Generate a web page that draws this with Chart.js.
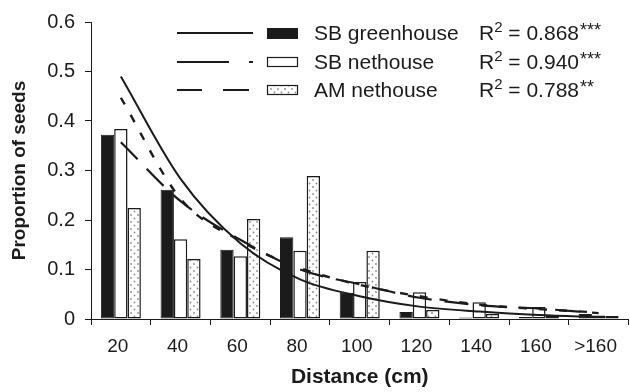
<!DOCTYPE html>
<html lang="en">
<head>
  <meta charset="UTF-8">
  <title>Seed dispersal by distance</title>
  <script src="https://cdn.jsdelivr.net/npm/chart.js@4.4.1/dist/chart.umd.min.js"></script>
  <style>
    html, body { margin: 0; padding: 0; background: #fff; }
    #wrap { width: 630px; height: 392px; position: relative; }
  </style>
</head>
<body>
<div id="wrap"><canvas id="seedChart"></canvas></div>

<script>
  // distance classes (cm)
  const distances = ['20', '40', '60', '80', '100', '120', '140', '160', '>160'];
  const yTicks = [0, 0.1, 0.2, 0.3, 0.4, 0.5, 0.6];

  // observed proportion of seeds (bars)
  const sbGreenhouse = [0.372, 0.261, 0.140, 0.165, 0.053, 0.014, 0.003, 0.004, 0.010];
  const sbNethouse   = [0.384, 0.161, 0.127, 0.138, 0.075, 0.054, 0.034, 0.024, 0.007];
  const amNethouse   = [0.224, 0.121, 0.202, 0.289, 0.138, 0.018, 0.010, 0.007, 0.006];

  // fitted curves, read at each distance class
  const sbGreenhouseFit = [0.490, 0.283, 0.153, 0.080, 0.046, 0.025, 0.015, 0.008, 0.004];
  const sbNethouseFit   = [0.447, 0.243, 0.158, 0.103, 0.069, 0.046, 0.029, 0.020, 0.013];
  const amNethouseFit   = [0.357, 0.238, 0.160, 0.100, 0.070, 0.043, 0.028, 0.021, 0.012];

  const seriesNames = ['SB greenhouse', 'SB nethouse', 'AM nethouse'];
  const rSquared = ['0.868', '0.940', '0.788'];
  const signif = ['***', '***', '**'];

  const ink = '#1b1b1b';
  const fontFamily = '"Liberation Sans", Arial, Helvetica, sans-serif';

  // stippled fill for the AM nethouse bars
  function makeDots() {
    const c = document.createElement('canvas');
    c.width = 7; c.height = 7;
    const g = c.getContext('2d');
    g.fillStyle = '#fff';
    g.fillRect(0, 0, 7, 7);
    g.fillStyle = '#8c8c8c';
    g.beginPath(); g.arc(1.5, 1.5, 0.9, 0, Math.PI * 2); g.fill();
    g.beginPath(); g.arc(5, 5, 0.9, 0, Math.PI * 2); g.fill();
    return c;
  }
  const ctx = document.getElementById('seedChart').getContext('2d');
  const dots = ctx.createPattern(makeDots(), 'repeat');

  // legend with line samples, swatches and R² text
  const curveLegend = {
    id: 'curveLegend',
    afterDraw(chart) {
      const c = chart.ctx;
      const rows = [33, 62, 90];
      c.save();
      rows.forEach((y, i) => {
        c.strokeStyle = ink;
        c.lineWidth = 2;
        c.beginPath();
        if (i === 0) {
          c.moveTo(177, y); c.lineTo(253, y);
        } else if (i === 1) {
          c.moveTo(177, y); c.lineTo(229, y);
          c.moveTo(249, y); c.lineTo(253, y);
        } else {
          c.moveTo(177, y); c.lineTo(202, y);
          c.moveTo(223, y); c.lineTo(249, y);
        }
        c.stroke();

        // swatch
        c.lineWidth = 1.2;
        if (i === 0) {
          c.fillStyle = ink;
          c.fillRect(267, y - 5, 31, 11);
        } else {
          c.fillStyle = i === 1 ? '#fff' : dots;
          c.fillRect(267, y - 5, 31, 10);
          c.strokeRect(267.5, y - 4.5, 30, 9);
        }

        c.fillStyle = ink;
        c.textBaseline = 'middle';
        c.textAlign = 'left';
        c.font = '21px ' + fontFamily;
        c.fillText(seriesNames[i], 314, y + 1);

        let x = 479;
        c.fillText('R', x, y + 1);
        x += c.measureText('R').width;
        c.font = '15px ' + fontFamily;
        c.fillText('2', x, y - 5);
        x += c.measureText('2').width;
        c.font = '21px ' + fontFamily;
        c.fillText(' = ' + rSquared[i], x, y + 1);
        x += c.measureText(' = ' + rSquared[i]).width;
        c.font = '18px ' + fontFamily;
        c.fillText(signif[i], x + 1, y - 2);
      });
      c.restore();
    }
  };

  const lineBase = {
    type: 'line',
    borderColor: ink,
    borderWidth: 2,
    pointRadius: 0,
    fill: false,
    cubicInterpolationMode: 'monotone',
    order: 0
  };
  const barBase = {
    type: 'bar',
    borderColor: ink,
    borderSkipped: false,
    barPercentage: 1,
    categoryPercentage: 0.67,
    order: 1
  };

  new Chart(ctx, {
    data: {
      labels: distances,
      datasets: [
        Object.assign({}, lineBase, { label: 'SB greenhouse fit', data: sbGreenhouseFit }),
        Object.assign({}, lineBase, { label: 'SB nethouse fit', data: sbNethouseFit, borderWidth: 2.4, borderDash: [8, 12] }),
        Object.assign({}, lineBase, { label: 'AM nethouse fit', data: amNethouseFit, borderWidth: 2.2, borderDash: [24, 13] }),
        Object.assign({}, barBase, { label: 'SB greenhouse', data: sbGreenhouse, backgroundColor: ink, borderWidth: 1 }),
        Object.assign({}, barBase, { label: 'SB nethouse', data: sbNethouse, backgroundColor: '#fff', borderWidth: 1.5 }),
        Object.assign({}, barBase, { label: 'AM nethouse', data: amNethouse, backgroundColor: dots, borderWidth: 1.5 })
      ]
    },
    options: {
      responsive: true,
      maintainAspectRatio: false,
      animation: false,
      layout: { padding: { top: 15, right: 0, left: 0, bottom: 0 } },
      plugins: {
        legend: { display: false },
        tooltip: { enabled: false }
      },
      scales: {
        x: {
          offset: true,
          grid: { display: true, offset: true, drawOnChartArea: false, drawTicks: true, tickLength: 6, color: ink, lineWidth: 1 },
          border: { display: true, color: ink, width: 1 },
          ticks: { color: ink, padding: 10, labelOffset: -3, font: { size: 19, family: fontFamily } },
          title: { display: true, text: 'Distance (cm)', color: ink, padding: { top: 0, bottom: 2 }, font: { size: 21, weight: 'bold', family: fontFamily } },
          afterFit(scale) { scale.height = 73; }
        },
        y: {
          min: 0,
          max: 0.6,
          afterBuildTicks(scale) { scale.ticks = yTicks.map(v => ({ value: v })); },
          grid: { display: true, drawOnChartArea: false, drawTicks: true, tickLength: 6, color: ink, lineWidth: 1 },
          border: { display: true, color: ink, width: 1 },
          ticks: {
            color: ink,
            padding: 10,
            font: { size: 20, family: fontFamily },
            callback: v => (v === 0 ? '0' : v.toFixed(1))
          },
          title: { display: true, text: 'Proportion of seeds', color: ink, padding: { top: 8, bottom: 0 }, font: { size: 19, weight: 'bold', family: fontFamily } },
          afterFit(scale) { scale.width = 91; }
        }
      }
    },
    plugins: [curveLegend]
  });
</script>
</body>
</html>
